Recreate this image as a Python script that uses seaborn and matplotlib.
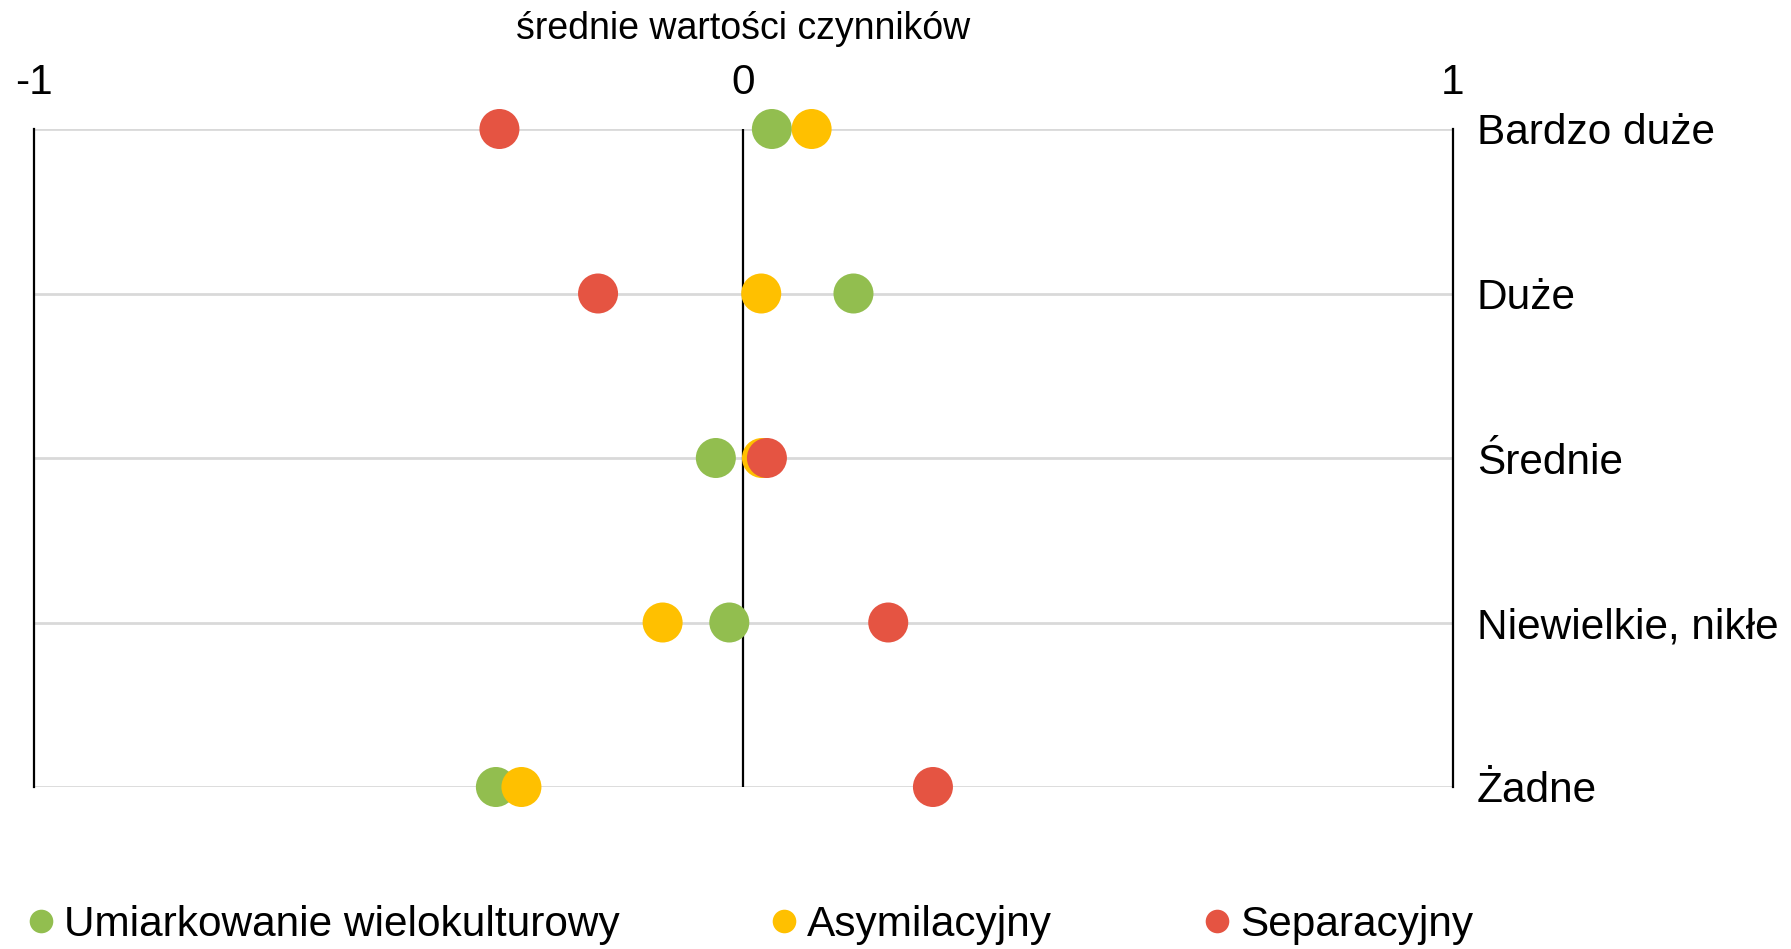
import matplotlib
matplotlib.use("Agg")
import matplotlib.pyplot as plt
from matplotlib.lines import Line2D
import seaborn as sns
import pandas as pd

categories = ["Bardzo duże", "Duże", "Średnie", "Niewielkie, nikłe", "Żadne"]
series_names = ["Umiarkowanie wielokulturowy", "Asymilacyjny", "Separacyjny"]
umiarkowanie = [0.040, 0.155, -0.039, -0.020, -0.349]
asymilacyjny = [0.096, 0.025, 0.026, -0.114, -0.313]
separacyjny = [-0.344, -0.205, 0.033, 0.204, 0.267]
x_ticks = [-1, 0, 1]
x_tick_labels = ["-1", "0", "1"]
axis_title = "średnie wartości czynników"

colors = {"Umiarkowanie wielokulturowy": "#92BE4F",
          "Asymilacyjny": "#FFC000",
          "Separacyjny": "#E55442"}

rows = []
for name, vals in zip(series_names, [umiarkowanie, asymilacyjny, separacyjny]):
    for i, (cat, v) in enumerate(zip(categories, vals)):
        rows.append({"series": name, "category": cat, "pos": i, "value": v})
df = pd.DataFrame(rows)

sns.set_theme(style="white")
plt.rcParams["font.family"] = ["Liberation Sans", "DejaVu Sans"]
plt.rcParams["text.color"] = "black"

W, H = 1791, 949
fig = plt.figure(figsize=(W / 100, H / 100), dpi=100)
x0, x1 = 34, 1453
y0, y1 = 129, 787
ax = fig.add_axes([x0 / W, 1 - y1 / H, (x1 - x0) / W, (y1 - y0) / H])

ax.grid(axis="y", color="#D9D9D9", linewidth=2, zorder=0)
ax.set_axisbelow(True)
ax.axvline(0, color="black", linewidth=1.6, zorder=1)

sns.scatterplot(data=df, x="value", y="pos", hue="series", palette=colors,
                hue_order=series_names, s=830, linewidth=0, legend=False,
                clip_on=False, zorder=3, ax=ax)

ax.set_xlim(-1, 1)
ax.set_ylim(len(categories) - 1, 0)
ax.set_yticks(range(len(categories)))
ax.set_yticklabels(categories)
ax.yaxis.tick_right()
ax.tick_params(axis="y", length=0, pad=17, labelsize=30.5, labelcolor="black")

ax.xaxis.tick_top()
ax.set_xticks(x_ticks)
ax.set_xticklabels(x_tick_labels)
ax.tick_params(axis="x", length=0, pad=19, labelsize=30.5, labelcolor="black")
ax.xaxis.set_label_position("top")
ax.set_xlabel(axis_title, fontsize=27, labelpad=17, color="black")
ax.set_ylabel("")

for side in ["top", "bottom"]:
    ax.spines[side].set_visible(False)
for side in ["left", "right"]:
    ax.spines[side].set_visible(True)
    ax.spines[side].set_color("black")
    ax.spines[side].set_linewidth(1.6)

handles = [Line2D([], [], marker="o", linestyle="none", markersize=17,
                  markerfacecolor=colors[n], markeredgewidth=0) for n in series_names]
fig.legend(handles, series_names, loc="center left",
           bbox_to_anchor=(27 / W, 1 - 925 / H), bbox_transform=fig.transFigure,
           ncol=3, frameon=False, fontsize=30.5, handlelength=0.64, handletextpad=0.23,
           columnspacing=3.56, borderpad=0, borderaxespad=0, labelcolor="black")

fig.savefig("out.png", dpi=100, facecolor="white")
